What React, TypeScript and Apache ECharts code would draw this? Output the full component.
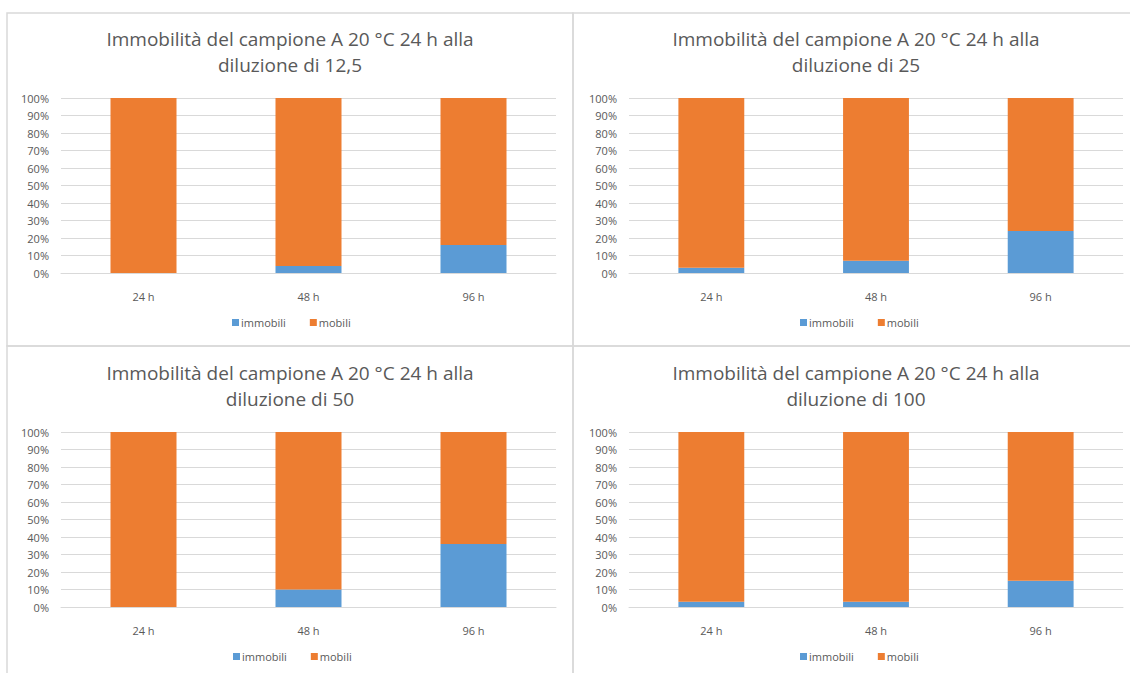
import React, { useEffect, useRef } from "react";
import * as echarts from "echarts";

const categories = ["24 h", "48 h", "96 h"];
const dilutions = ["12,5", "25", "50", "100"];
const titlePrefix = "Immobilità del campione A 20 °C 24 h alla\ndiluzione di ";

const immobili125 = [0, 4, 16];
const mobili125 = [100, 96, 84];
const immobili25 = [3, 7, 24];
const mobili25 = [97, 93, 76];
const immobili50 = [0, 10, 36];
const mobili50 = [100, 90, 64];
const immobili100 = [3, 3, 15];
const mobili100 = [97, 97, 85];

const yTicks = [0, 10, 20, 30, 40, 50, 60, 70, 80, 90, 100];

const immobiliSets = [immobili125, immobili25, immobili50, immobili100];
const mobiliSets = [mobili125, mobili25, mobili50, mobili100];

const BLUE = "#5B9BD5";
const ORANGE = "#ED7D31";
const TEXT = "#595959";
const GRID = "#d9d9d9";
const FONT = "Open Sans, Liberation Sans, sans-serif";

// panel layout (pixels)
const panels = [
  { bx: 7, by: 13, bw: 566, bh: 333, gl: 61, gt: 98, gw: 495, tc: 290, lg: 232 },
  { bx: 573, by: 13, bw: 560, bh: 333, gl: 629, gt: 98, gw: 494, tc: 856, lg: 800 },
  { bx: 7, by: 346, bw: 566, bh: 330, gl: 61, gt: 432, gw: 495, tc: 290, lg: 233 },
  { bx: 573, by: 346, bw: 560, bh: 330, gl: 629, gt: 432, gw: 494, tc: 856, lg: 800 },
];

export default function App() {
  const ref = useRef<HTMLDivElement>(null);
  useEffect(() => {
    if (!ref.current) return;
    const chart = echarts.init(ref.current, null, { renderer: "svg" });
    const grids: any[] = [];
    const xAxes: any[] = [];
    const yAxes: any[] = [];
    const series: any[] = [];
    const titles: any[] = [];
    const legends: any[] = [];
    const graphics: any[] = [];
    panels.forEach((p, i) => {
      graphics.push({
        type: "rect",
        shape: { x: p.bx, y: p.by, width: p.bw, height: p.bh },
        style: { fill: "none", stroke: GRID, lineWidth: 1.5 },
        z: -1,
      });
      grids.push({ left: p.gl, top: p.gt, width: p.gw, height: 175 });
      xAxes.push({
        type: "category",
        gridIndex: i,
        data: categories,
        axisLine: { lineStyle: { color: GRID, width: 1 } },
        axisTick: { show: false },
        axisLabel: { color: TEXT, fontSize: 11, fontFamily: FONT, margin: 18 },
      });
      yAxes.push({
        type: "value",
        gridIndex: i,
        min: yTicks[0],
        max: yTicks[yTicks.length - 1],
        interval: 10,
        axisLine: { show: false },
        axisTick: { show: false },
        splitLine: { lineStyle: { color: GRID, width: 1 } },
        axisLabel: { color: TEXT, fontSize: 11, fontFamily: FONT, margin: 12, formatter: "{value}%" },
      });
      series.push({
        name: "immobili",
        type: "bar",
        stack: "s" + i,
        xAxisIndex: i,
        yAxisIndex: i,
        barWidth: "40%",
        data: immobiliSets[i],
        itemStyle: { color: BLUE },
      });
      series.push({
        name: "mobili",
        type: "bar",
        stack: "s" + i,
        xAxisIndex: i,
        yAxisIndex: i,
        barWidth: "40%",
        data: mobiliSets[i],
        itemStyle: { color: ORANGE },
      });
      titles.push({
        text: titlePrefix + dilutions[i],
        left: p.tc,
        top: p.gt - 72,
        textAlign: "center",
        padding: 0,
        textStyle: {
          color: TEXT,
          fontSize: 19,
          fontWeight: "normal",
          fontFamily: FONT,
          lineHeight: 26,
          align: "center",
        },
      });
      legends.push({
        data: ["immobili", "mobili"],
        left: p.lg,
        top: p.gt + 219,
        itemWidth: 7,
        itemHeight: 7,
        itemGap: 24,
        icon: "rect",
        padding: 0,
        textStyle: { color: TEXT, fontSize: 11, fontFamily: FONT, padding: [0, 0, 0, -3] },
        selectedMode: false,
      });
    });
    chart.setOption({
      animation: false,
      backgroundColor: "#ffffff",
      title: titles,
      legend: legends,
      grid: grids,
      xAxis: xAxes,
      yAxis: yAxes,
      series,
      graphic: graphics,
    });
    return () => chart.dispose();
  }, []);
  return (
    <div
      ref={ref}
      style={{ position: "fixed", left: 0, top: 0, width: 1130, height: 673, background: "#fff" }}
    />
  );
}
